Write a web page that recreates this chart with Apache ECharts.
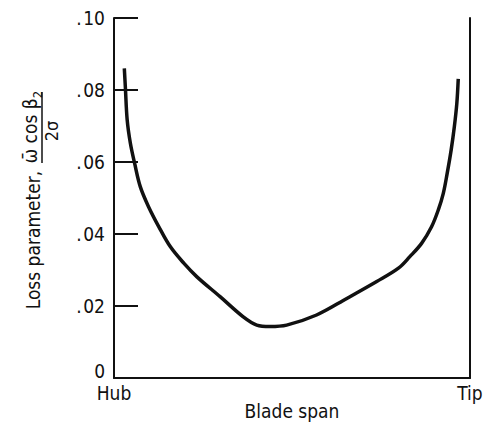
<!DOCTYPE html>
<html>
<head>
<meta charset="utf-8">
<script src="https://cdn.jsdelivr.net/npm/echarts@6/dist/echarts.min.js"></script>
<style>
  html, body { margin: 0; padding: 0; background: #fff; }
  #chart { width: 485px; height: 424px; }
</style>
</head>
<body>
<div id="chart"></div>
<script>
// blade span position (0 = hub, 1 = tip) and loss parameter
var spanPos = [0.029, 0.032, 0.037, 0.046, 0.058, 0.074, 0.097, 0.126, 0.158, 0.196, 0.233, 0.298, 0.363, 0.401, 0.438, 0.485,
               0.569, 0.654, 0.738, 0.799, 0.831, 0.864, 0.892, 0.911, 0.925, 0.936, 0.947, 0.956, 0.963, 0.967];
var lossParam = [0.0860, 0.0806, 0.0717, 0.0652, 0.0596, 0.0531, 0.0476, 0.0420, 0.0365, 0.0319, 0.0281, 0.0226, 0.0170, 0.0147, 0.0143, 0.0147,
                 0.0175, 0.0221, 0.0268, 0.0305, 0.0337, 0.0374, 0.0420, 0.0467, 0.0513, 0.0569, 0.0633, 0.0698, 0.0763, 0.0831];
var spanLabels = ['Hub', 'Tip'];
var yTicks = [0, 0.02, 0.04, 0.06, 0.08, 0.10];

var font = "'DejaVu Sans Condensed', 'Liberation Sans Narrow', sans-serif";
var ink = '#111';

var myChart = echarts.init(document.getElementById('chart'), null, { renderer: 'svg' });

var pts = spanPos.map(function (x, i) { return [x, lossParam[i]]; });

var option = {
    backgroundColor: '#fff',
    animation: false,
    grid: { left: 114, right: 15, top: 18, bottom: 46, outerBoundsMode: 'none', containLabel: false },
    xAxis: {
        type: 'value',
        min: 0,
        max: 1,
        interval: 1,
        name: 'Blade span',
        nameLocation: 'middle',
        nameGap: 23,
        nameMoveOverlap: false,
        nameTextStyle: { fontFamily: font, fontSize: 19, color: ink, lineHeight: 20 },
        axisLine: { lineStyle: { color: ink, width: 2 } },
        axisTick: { show: false },
        splitLine: { show: false },
        axisLabel: {
            margin: 5,
            fontFamily: font,
            fontSize: 19,
            color: ink,
            formatter: function (v) { return v === 0 ? spanLabels[0] : spanLabels[1]; }
        }
    },
    yAxis: [
        {
            type: 'value',
            min: yTicks[0],
            max: yTicks[yTicks.length - 1],
            interval: 0.02,
            axisLine: { show: true, lineStyle: { color: ink, width: 2 } },
            axisTick: { show: true, inside: true, length: 24, lineStyle: { color: ink, width: 2 } },
            splitLine: { show: false },
            axisLabel: {
                margin: 9,
                fontFamily: font,
                fontSize: 19,
                color: ink,
                formatter: function (v) {
                    if (v === 0) return '{z|0}';
                    return '.\u200a' + Math.round(v * 100).toString().padStart(2, '0');
                },
                rich: {
                    z: { fontFamily: font, fontSize: 19, color: ink, padding: [0, 0, 15, 0] }
                }
            }
        },
        {
            type: 'value',
            position: 'right',
            min: 0,
            max: 0.1,
            axisLine: { show: true, lineStyle: { color: ink, width: 2 } },
            axisTick: { show: false },
            axisLabel: { show: false },
            splitLine: { show: false }
        }
    ],
    graphic: [
        {
            type: 'text',
            x: 33, y: 240,
            rotation: Math.PI / 2,
            style: {
                text: 'Loss parameter,',
                font: '19px ' + font,
                fill: ink,
                textAlign: 'center',
                textVerticalAlign: 'middle'
            }
        },
        {
            type: 'text',
            x: 30, y: 127,
            rotation: Math.PI / 2,
            style: {
                text: '{b|\u03c9\u0304 cos \u03b2}{s|2}',
                fill: ink,
                textAlign: 'center',
                textVerticalAlign: 'middle',
                rich: {
                    b: { font: '19px ' + font, fill: ink, verticalAlign: 'bottom' },
                    s: { font: '13px ' + font, fill: ink, verticalAlign: 'bottom', padding: [0, 0, -4, 0] }
                }
            }
        },
        {
            type: 'line',
            shape: { x1: 42, y1: 92, x2: 42, y2: 163 },
            style: { stroke: ink, lineWidth: 1.5 }
        },
        {
            type: 'text',
            x: 51, y: 131,
            rotation: Math.PI / 2,
            style: {
                text: '2\u03c3',
                font: '18px ' + font,
                fill: ink,
                textAlign: 'center',
                textVerticalAlign: 'middle'
            }
        }
    ],
    series: [
        {
            name: 'Loss parameter',
            type: 'line',
            data: pts,
            smooth: 0.35,
            showSymbol: false,
            lineStyle: { color: ink, width: 3.5 },
            itemStyle: { color: ink }
        }
    ]
};
myChart.setOption(option);
</script>
</body>
</html>
